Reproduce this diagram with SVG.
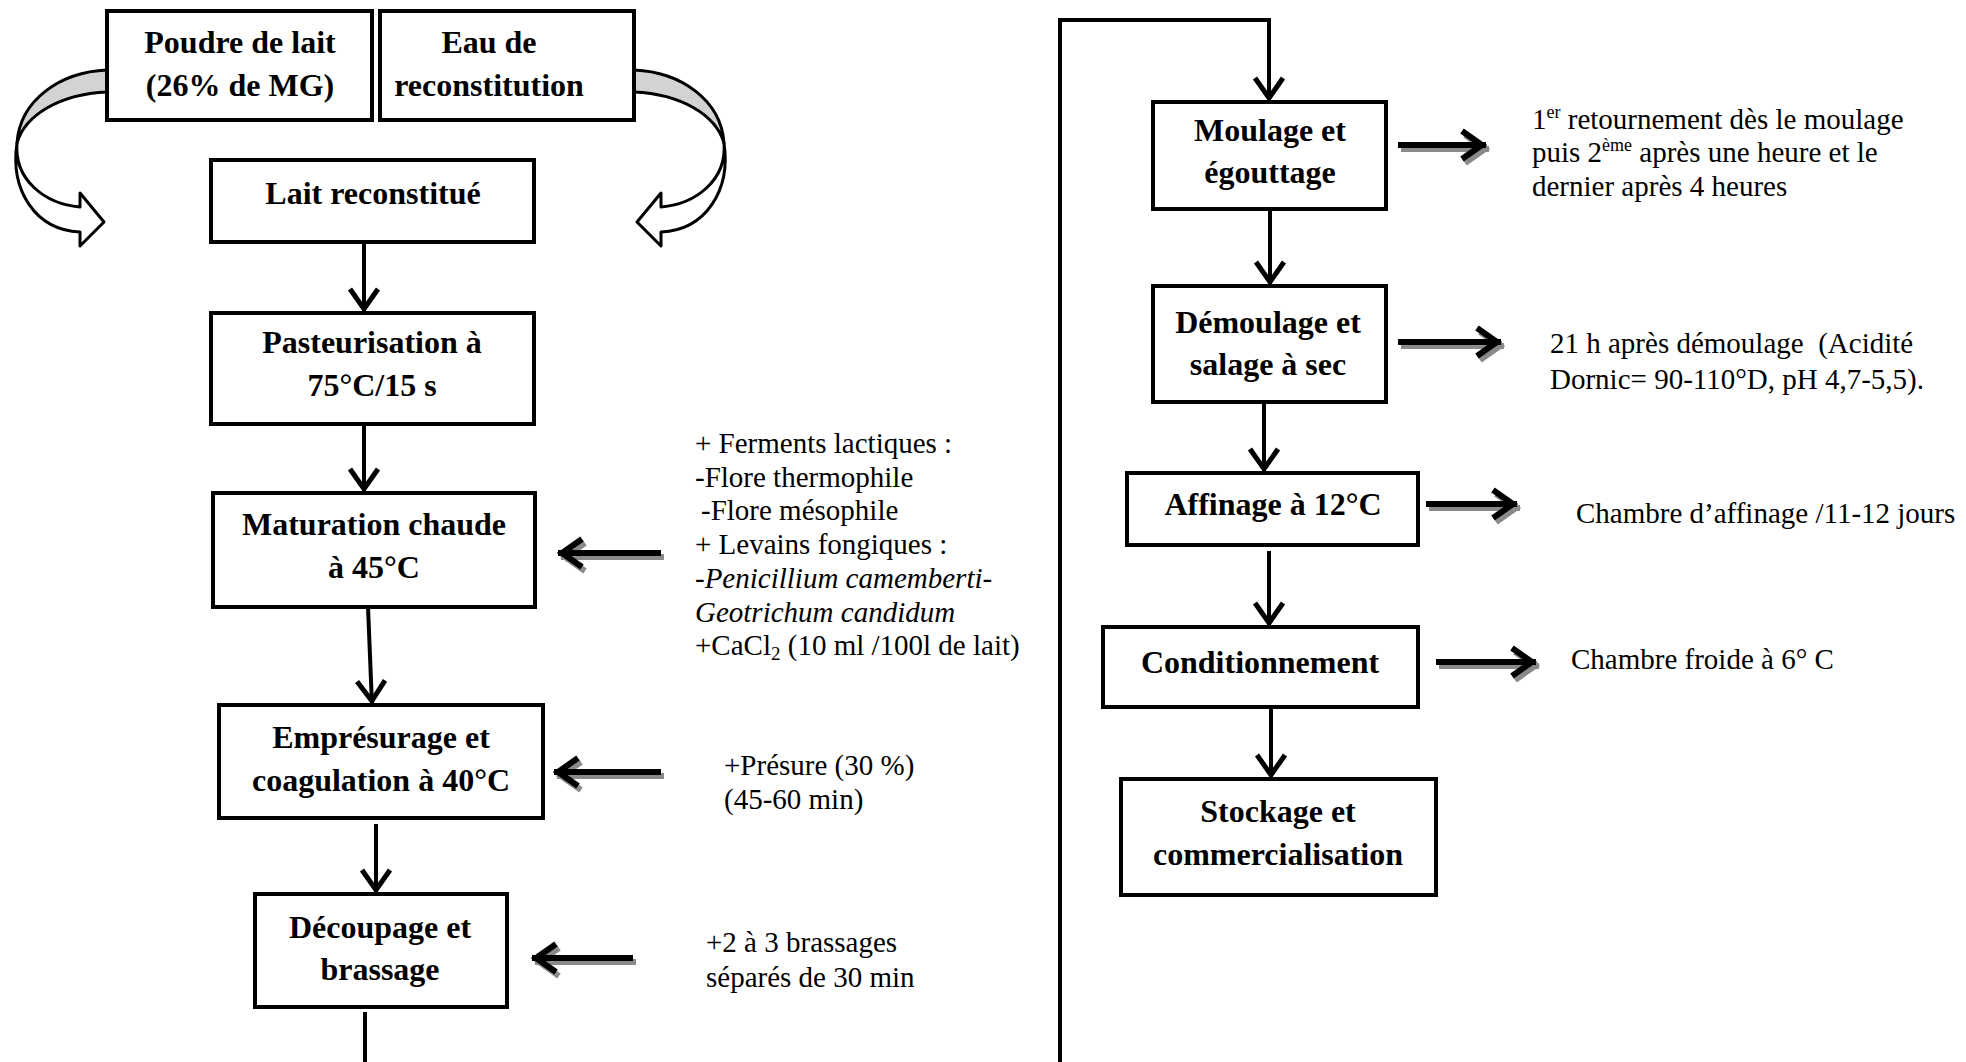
<svg xmlns="http://www.w3.org/2000/svg" width="1966" height="1062" viewBox="0 0 1966 1062">
  <style>
    .box { fill: #fff; stroke: #000; stroke-width: 4; }
    .lbl { font-family: "Liberation Serif", "Times New Roman", serif; font-weight: bold; font-size: 32px; fill: #000; text-anchor: middle; }
    .note { font-family: "Liberation Serif", "Times New Roman", serif; font-size: 29px; fill: #000; }
    .flow { fill: none; stroke: #000; stroke-width: 4; marker-end: url(#chev); }
    .line { fill: none; stroke: #000; stroke-width: 4; }
    .side { fill: none; stroke: #000; stroke-width: 6; marker-end: url(#chevBig); }
    .sideShadow { fill: none; stroke: #8a8a8a; stroke-width: 6; marker-end: url(#chevShadow); }
    .curve { stroke: #000; stroke-width: 3; stroke-linejoin: round; }
  </style>
  <defs>
    <marker id="chev" markerUnits="userSpaceOnUse" markerWidth="34" markerHeight="34" viewBox="0 0 34 34" refX="28" refY="17" orient="auto" overflow="visible">
      <path d="M4,3 L24,17 L4,31" fill="none" stroke="#000" stroke-width="5"/>
    </marker>
    <marker id="chevBig" markerUnits="userSpaceOnUse" markerWidth="34" markerHeight="34" viewBox="0 0 34 34" refX="28" refY="17" orient="auto" overflow="visible">
      <path d="M4,3 L24,17 L4,31" fill="none" stroke="#000" stroke-width="6"/>
    </marker>
    <marker id="chevShadow" markerUnits="userSpaceOnUse" markerWidth="34" markerHeight="34" viewBox="0 0 34 34" refX="28" refY="17" orient="auto" overflow="visible">
      <path d="M4,3 L24,17 L4,31" fill="none" stroke="#8a8a8a" stroke-width="6"/>
    </marker>
    <!-- curved ribbon arrow, shaded back part and white front part -->
    <g id="ribbon">
      <path class="curve" fill="#d3d3d3" d="M107,70 C60,72 20,100 17,143 C25,115 60,94 107,92 Z"/>
      <path class="curve" fill="#fff" d="M17,143 C14,180 45,204 80,207 L80,193 L104,222 L80,246 L80,232 C35,230 10,190 17,143 Z"/>
    </g>
  </defs>

  <rect width="1966" height="1062" fill="#fff"/>

  <!-- curved arrows from the two ingredients -->
  <g id="curve-left"><use href="#ribbon"/></g>
  <g id="curve-right"><use href="#ribbon" transform="matrix(-1 0 0 1 741 0)"/></g>

  <!-- connectors -->
  <g id="connectors">
    <path class="flow" d="M364,242 L364,313"/>
    <path class="flow" d="M364,424 L364,493"/>
    <path class="flow" d="M368,607 L372,705"/>
    <path class="flow" d="M376,824 L376,894"/>
    <path class="line" d="M365,1012 L365,1062"/>
    <path class="line" d="M1060,1062 L1060,20 L1269,20"/>
    <path class="flow" d="M1269,18 L1269,102"/>
    <path class="flow" d="M1270,209 L1270,286"/>
    <path class="flow" d="M1264,402 L1264,473"/>
    <path class="flow" d="M1269,551 L1269,627"/>
    <path class="flow" d="M1271,707 L1271,779"/>

    <!-- drop shadows of the side arrows -->
    <g transform="translate(3,4)">
      <path class="sideShadow" d="M661,553 L558,553"/>
      <path class="sideShadow" d="M661,772 L554,772"/>
      <path class="sideShadow" d="M633,958 L532,958"/>
      <path class="sideShadow" d="M1398,145 L1486,145"/>
      <path class="sideShadow" d="M1398,342 L1501,342"/>
      <path class="sideShadow" d="M1426,504 L1517,504"/>
      <path class="sideShadow" d="M1436,662 L1536,662"/>
    </g>
    <!-- side inputs (left column) -->
    <path class="side" d="M661,553 L558,553"/>
    <path class="side" d="M661,772 L554,772"/>
    <path class="side" d="M633,958 L532,958"/>
    <!-- side outputs (right column) -->
    <path class="side" d="M1398,145 L1486,145"/>
    <path class="side" d="M1398,342 L1501,342"/>
    <path class="side" d="M1426,504 L1517,504"/>
    <path class="side" d="M1436,662 L1536,662"/>
  </g>

  <!-- process steps -->
  <g id="poudre">
    <rect class="box" x="107" y="11" width="265" height="109"/>
    <text class="lbl" x="240" y="53">Poudre de lait</text>
    <text class="lbl" x="240" y="96">(26% de MG)</text>
  </g>
  <g id="eau">
    <rect class="box" x="380" y="11" width="254" height="109"/>
    <text class="lbl" x="489" y="53">Eau de</text>
    <text class="lbl" x="489" y="96">reconstitution</text>
  </g>
  <g id="lait">
    <rect class="box" x="211" y="160" width="323" height="82"/>
    <text class="lbl" x="373" y="204">Lait reconstitué</text>
  </g>
  <g id="pasteurisation">
    <rect class="box" x="211" y="313" width="323" height="111"/>
    <text class="lbl" x="372" y="353">Pasteurisation à</text>
    <text class="lbl" x="372" y="396">75°C/15 s</text>
  </g>
  <g id="maturation">
    <rect class="box" x="213" y="493" width="322" height="114"/>
    <text class="lbl" x="374" y="535">Maturation chaude</text>
    <text class="lbl" x="374" y="578">à 45°C</text>
  </g>
  <g id="empresurage">
    <rect class="box" x="219" y="705" width="324" height="113"/>
    <text class="lbl" x="381" y="748">Emprésurage et</text>
    <text class="lbl" x="381" y="791">coagulation à 40°C</text>
  </g>
  <g id="decoupage">
    <rect class="box" x="255" y="894" width="252" height="113"/>
    <text class="lbl" x="380" y="938">Découpage et</text>
    <text class="lbl" x="380" y="980">brassage</text>
  </g>
  <g id="moulage">
    <rect class="box" x="1153" y="102" width="233" height="107"/>
    <text class="lbl" x="1270" y="141">Moulage et</text>
    <text class="lbl" x="1270" y="183">égouttage</text>
  </g>
  <g id="demoulage">
    <rect class="box" x="1153" y="286" width="233" height="116"/>
    <text class="lbl" x="1268" y="333">Démoulage et</text>
    <text class="lbl" x="1268" y="375">salage à sec</text>
  </g>
  <g id="affinage">
    <rect class="box" x="1127" y="473" width="291" height="72"/>
    <text class="lbl" x="1273" y="515">Affinage à 12°C</text>
  </g>
  <g id="conditionnement">
    <rect class="box" x="1103" y="627" width="315" height="80"/>
    <text class="lbl" x="1260" y="673">Conditionnement</text>
  </g>
  <g id="stockage">
    <rect class="box" x="1121" y="779" width="315" height="116"/>
    <text class="lbl" x="1278" y="822">Stockage et</text>
    <text class="lbl" x="1278" y="865">commercialisation</text>
  </g>

  <!-- annotations -->
  <g id="note-maturation">
    <text class="note" x="695" y="453">+ Ferments lactiques :</text>
    <text class="note" x="695" y="487">-Flore thermophile</text>
    <text class="note" x="701" y="520">-Flore mésophile</text>
    <text class="note" x="695" y="554">+ Levains fongiques :</text>
    <text class="note" x="695" y="588" font-style="italic">-Penicillium camemberti-</text>
    <text class="note" x="695" y="622" font-style="italic">Geotrichum candidum</text>
    <text class="note" x="695" y="655">+CaCl<tspan font-size="19" dy="5">2</tspan><tspan dy="-5"> (10 ml /100l de lait)</tspan></text>
  </g>
  <g id="note-presure">
    <text class="note" x="724" y="775">+Présure (30 %)</text>
    <text class="note" x="724" y="809">(45-60 min)</text>
  </g>
  <g id="note-brassage">
    <text class="note" x="706" y="952">+2 à 3 brassages</text>
    <text class="note" x="706" y="987">séparés de 30 min</text>
  </g>
  <g id="note-moulage">
    <text class="note" x="1532" y="129">1<tspan font-size="18" dy="-11">er</tspan><tspan dy="11"> retournement dès le moulage</tspan></text>
    <text class="note" x="1532" y="162">puis 2<tspan font-size="18" dy="-11">ème</tspan><tspan dy="11"> après une heure et le</tspan></text>
    <text class="note" x="1532" y="196">dernier après 4 heures</text>
  </g>
  <g id="note-demoulage">
    <text class="note" x="1550" y="353" xml:space="preserve">21 h après démoulage  (Acidité</text>
    <text class="note" x="1550" y="389">Dornic= 90-110°D, pH 4,7-5,5).</text>
  </g>
  <g id="note-affinage">
    <text class="note" x="1576" y="523">Chambre d’affinage /11-12 jours</text>
  </g>
  <g id="note-conditionnement">
    <text class="note" x="1571" y="669">Chambre froide à 6° C</text>
  </g>
</svg>
